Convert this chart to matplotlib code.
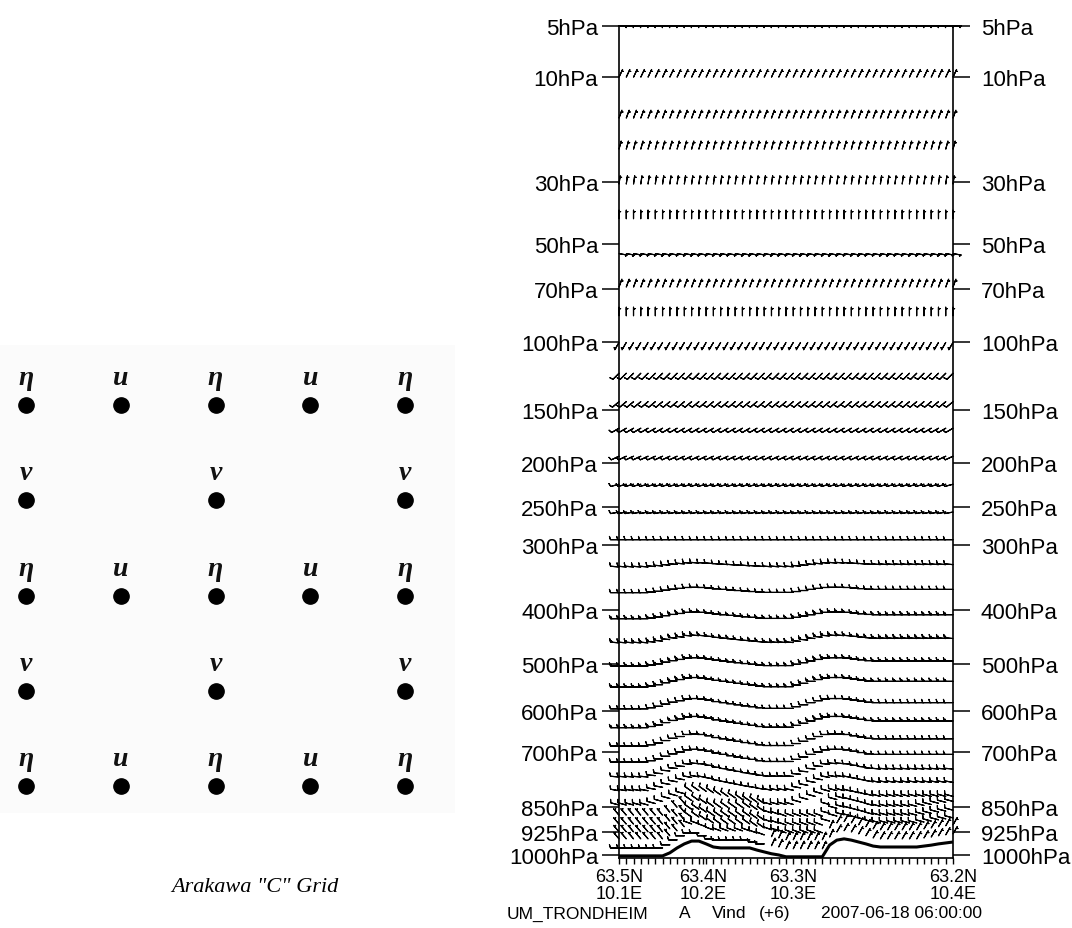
import numpy as np
import matplotlib
matplotlib.use('Agg')
import matplotlib.pyplot as plt
from matplotlib.ticker import NullLocator, FixedLocator
from matplotlib.patches import Rectangle

# ---------------- left panel: Arakawa C grid ----------------
grid_labels = [
    ['η', 'u', 'η', 'u', 'η'],
    ['v', '', 'v', '', 'v'],
    ['η', 'u', 'η', 'u', 'η'],
    ['v', '', 'v', '', 'v'],
    ['η', 'u', 'η', 'u', 'η'],
]
grid_title = 'Arakawa "C" Grid'

# ---------------- right panel: wind cross section ----------------
p_ticks = [5, 10, 30, 50, 70, 100, 150, 200, 250, 300, 400, 500, 600, 700, 850, 925, 1000]
x_tick_pos = [0, 11.6, 24.0, 46]
x_tick_lab = ['63.5N\n10.1E', '63.4N\n10.2E', '63.3N\n10.3E', '63.2N\n10.4E']
info_text = ['UM_TRONDHEIM', 'A', 'Vind', '(+6)', '2007-06-18 06:00:00']

# surface pressure (hPa) along the section, one value per model column
surf_p = [1003, 1003, 1003, 1003, 1003, 1003, 1003, 993, 977, 964,
          955, 955, 964, 974, 977, 977, 977, 977, 977, 984,
          990, 996, 1000, 1006, 1006, 1006, 1006, 1006, 1006, 968,
          952, 948, 952, 958, 964, 971, 974, 974, 974, 974,
          974, 974, 971, 968, 964, 961, 958]
# smoother terrain felt by the levels higher up
smooth_p = [1003, 1003, 1003, 1003, 1003, 998, 991, 981, 972, 965,
            957, 955, 957, 962, 969, 974, 979, 984, 989, 993,
            998, 1001, 1001, 1001, 1001, 993, 984, 974, 965, 957,
            955, 955, 957, 962, 967, 972, 974, 974, 974, 974,
            974, 974, 974, 974, 974, 974, 974]

# model levels: pressure at the left end and how much they follow the terrain
level_p = [5, 10, 16, 22, 30.5, 41, 54, 69, 84, 100, 121, 143, 166, 193, 223,
           256, 292, 331, 371, 415, 459, 504, 548, 596, 640, 685, 726, 766,
           804, 845, 875, 902, 926, 948, 977]
level_w = [0, 0, 0, 0, 0, 0, 0, 0, 0, 0, 0, 0, 0, 0, 0, 0, 0,
           0.12, 0.18, 0.24, 0.28, 0.34, 0.42, 0.48, 0.55, 0.62, 0.68, 0.74,
           0.80, 0.86, 0.90, 0.93, 0.95, 0.97, 0.99]
# wind direction (deg, from) and speed (kt) per level
level_dir = [90, 25, 20, 15, 8, 0, 100, 20, 0, 210, 225, 230, 240, 245, 255,
             260, 270, 275, 270, 270, 275, 270, 270, 270, 270, 270, 270, 275,
             280, 285, 285, 285, 285, 280, 270]
level_spd = [5, 5, 5, 5, 5, 5, 5, 5, 5, 5, 10, 10, 10, 10, 10,
             10, 10, 10, 10, 15, 15, 15, 15, 10, 15, 10, 10, 10,
             10, 10, 10, 10, 10, 10, 10]
# boundary layer patches: (p_top, p_bottom, first col, last col, dir, speed)
low_wind = [
    (875, 948, 0, 9, 320, 5),
    (845, 926, 10, 20, 305, 10),
    (948, 948, 10, 20, 290, 10),
    (875, 926, 21, 28, 290, 10),
    (948, 977, 21, 29, 25, 5),
    (948, 977, 30, 46, 30, 5),
]

# ---------------- figure ----------------
fig = plt.figure(figsize=(10.72, 9.29), dpi=100)
W, H = 1072.0, 929.0

# left panel, axes in grid units (columns / rows)
axl = fig.add_axes([0, 0, 460 / W, 599 / H])
axl.set_xlim(-26 / 94.75, 434 / 94.75)
axl.set_ylim(523 / 95.25, -76 / 95.25)
axl.axis('off')
axl.add_patch(Rectangle((-26 / 94.75, -60 / 95.25), 455 / 94.75, 468 / 95.25,
                        facecolor='#fbfbfb', edgecolor='none', zorder=0))
for r, row in enumerate(grid_labels):
    for c, lab in enumerate(row):
        if lab == '':
            continue
        axl.plot(c, r, 'o', ms=11, color='black', zorder=3)
        axl.text(c, r - 0.22, lab, ha='center', va='baseline', fontsize=20,
                 fontstyle='italic', fontweight='bold',
                 family=['Liberation Serif', 'DejaVu Serif'], color='#111111')
axl.text(2.42, 5.06, grid_title, ha='center', va='center', fontsize=16,
         fontstyle='italic', family=['Liberation Serif', 'DejaVu Serif'])

# right panel
k = 0.286
fwd = lambda p: np.power(np.abs(p), k)
inv = lambda y: np.power(np.abs(y), 1.0 / k)

ax = fig.add_axes([619 / W, 1 - 859 / H, 334 / W, 832 / H])
ax.set_yscale('function', functions=(fwd, inv))
ax.set_ylim(1010, 5)
ncol = len(surf_p)
ax.set_xlim(0, ncol - 1)

lp = np.array(level_p, float)
sp = np.array(surf_p, float)
ps_felt = np.where(lp[:, None] >= 870, sp[None, :], np.array(smooth_p, float)[None, :])
P = lp[:, None] + np.array(level_w)[:, None] * (ps_felt - sp[0])
D = np.repeat(np.array(level_dir, float)[:, None], ncol, axis=1)
S = np.repeat(np.array(level_spd, float)[:, None], ncol, axis=1)
for ptop, pbot, c0, c1, d, s in low_wind:
    rows = (lp >= ptop) & (lp <= pbot)
    D[rows, c0:c1 + 1] = d
    S[rows, c0:c1 + 1] = s
U = -S * np.sin(np.radians(D))
V = -S * np.cos(np.radians(D))
X = np.broadcast_to(np.arange(ncol), P.shape)

ax.barbs(X, P, U, V, length=3.5, linewidth=0.85, color='black', clip_on=False,
         sizes=dict(spacing=0.15, height=0.38, width=0.25, emptybarb=0.1))
ax.plot(np.arange(ncol), sp, color='black', lw=2.2, solid_capstyle='butt')

for s in ax.spines.values():
    s.set_linewidth(1.2)

lab_font = ['Liberation Sans', 'DejaVu Sans']
ax.yaxis.set_major_locator(FixedLocator(p_ticks))
ax.yaxis.set_minor_locator(NullLocator())
ax.set_yticklabels([f'{p}hPa' for p in p_ticks], fontsize=16, family=lab_font)
ax.tick_params(axis='y', which='major', direction='out', length=12, width=1.1,
               pad=3, right=False)

ax.xaxis.set_major_locator(FixedLocator(x_tick_pos))
ax.xaxis.set_minor_locator(FixedLocator(np.arange(ncol)))
ax.set_xticklabels(x_tick_lab, fontsize=13, family=lab_font, linespacing=1.05)
ax.tick_params(axis='x', which='both', direction='out', length=4, width=1.0, pad=3)

ax2 = ax.twinx()
ax2.set_yscale('function', functions=(fwd, inv))
ax2.set_ylim(1010, 5)
ax2.yaxis.set_major_locator(FixedLocator(p_ticks))
ax2.yaxis.set_minor_locator(NullLocator())
ax2.set_yticklabels([f'{p}hPa' for p in p_ticks], fontsize=16, family=lab_font)
ax2.tick_params(axis='y', which='major', direction='out', length=12, width=1.1, pad=8)
for s in ax2.spines.values():
    s.set_visible(False)

info_x = [507, 679, 712, 759, 821]
for tx, t in zip(info_x, info_text):
    fig.text(tx / W, 1 - 914 / H, t, ha='left', va='center', fontsize=12.5,
             family=lab_font)

fig.savefig('out.png', dpi=100, facecolor='white')
